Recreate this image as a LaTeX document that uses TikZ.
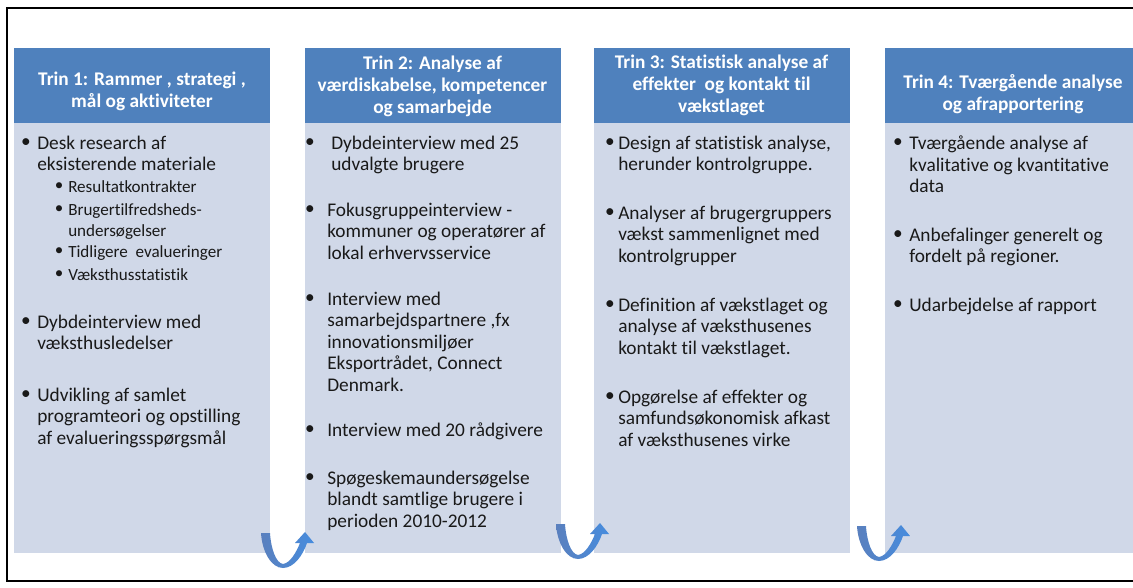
\documentclass[tikz,border=0pt]{standalone}
\usepackage{fontspec}
\setmainfont{Carlito}[Ligatures=NoCommon]
\definecolor{hdblue}{RGB}{79,129,189}
\definecolor{bdgrey}{RGB}{208,216,232}
\definecolor{uleft}{RGB}{90,128,190}
\definecolor{uright}{RGB}{70,140,222}
\newcommand{\bodyfont}{\fontsize{14.5}{16.1}\selectfont}
\newcommand{\subfont}{\fontsize{12.8}{15.3}\selectfont}
% bullet item: name, bullet x, text x, first line y, text
\newcommand{\bitem}[5]{%
  \node[dot] (#1b) at (#2,#4) {\textbullet};
  \node[item] (#1) at (#3,{#4-7.3}) {#5};}
\newcommand{\sitem}[5]{%
  \node[dot,font=\subfont] (#1b) at (#2,#4) {\textbullet};
  \node[item,font=\subfont] (#1) at (#3,{#4-6.5}) {#5};}

\begin{document}
\begin{tikzpicture}[x=0.75pt,y=-0.75pt,
  hdtext/.style={text=white,font=\bfseries\fontsize{14.5}{16.5}\selectfont,align=center,inner sep=0pt},
  item/.style={anchor=north west,inner sep=0pt,align=left,font=\bodyfont,text=black!90},
  dot/.style={inner sep=0pt,font=\bodyfont,text=black!90},
  uarrow/.style={left color=uleft,right color=uright}]
\useasboundingbox (0,0) rectangle (1133,588);
\clip (0,0) rectangle (1133,588);
% frame
\draw[line width=1.5pt] (1140,8) -- (7,8) -- (7,581) -- (1140,581);
% columns
\foreach \cx in {14,305,594,885}{
  \fill[hdblue] (\cx,48) rectangle ++(256,75);
  \fill[bdgrey] (\cx,123) rectangle ++(256,430);
}
% headers
\node[hdtext] (hd1) at (142,91) {Trin 1: Rammer , strategi ,\\mål og aktiviteter};
\node[hdtext] (hd2) at (432.5,86) {Trin 2: Analyse af\\værdiskabelse, kompetencer\\og samarbejde};
\node[hdtext] (hd3) at (721.5,85) {Trin 3: Statistisk analyse af\\effekter\ \ og kontakt til\\vækstlaget};
\node[hdtext] (hd4) at (1013,94) {Trin 4: Tværgående analyse\\og afrapportering};
% trin 1
\bitem{a1}{26}{37}{143}{Desk research af\\eksisterende materiale}
\sitem{a1s1}{59}{68}{187}{Resultatkontrakter}
\sitem{a1s2}{59}{68}{210}{Brugertilfredsheds-\\undersøgelser}
\sitem{a1s3}{59}{68}{252}{Tidligere\ \ evalueringer}
\sitem{a1s4}{59}{68}{275}{Væksthusstatistik}
\bitem{a2}{26}{37}{322}{Dybdeinterview med\\væksthusledelser}
\bitem{a3}{26}{37}{395}{Udvikling af samlet\\programteori og opstilling\\af evalueringsspørgsmål}
% trin 2
\bitem{b1}{310}{331}{143}{Dybdeinterview med 25\\udvalgte brugere}
\bitem{b2}{310}{327}{210}{Fokusgruppeinterview -\\kommuner og operatører af\\lokal erhvervsservice}
\bitem{b3}{310}{327}{299}{Interview med\\samarbejdspartnere ,fx\\innovationsmiljøer\\Eksportrådet, Connect\\Denmark.}
\bitem{b4}{310}{327}{430}{Interview med 20 rådgivere}
\bitem{b5}{310}{327}{478}{Spøgeskemaundersøgelse\\blandt samtlige brugere i\\perioden 2010-2012}
% trin 3
\bitem{c1}{610}{618}{143}{Design af statistisk analyse,\\herunder kontrolgruppe.}
\bitem{c2}{610}{618}{213}{Analyser af brugergruppers\\vækst sammenlignet med\\kontrolgrupper}
\bitem{c3}{610}{618}{305}{Definition af vækstlaget og\\analyse af væksthusenes\\kontakt til vækstlaget.}
\bitem{c4}{610}{618}{397}{Opgørelse af effekter og\\samfundsøkonomisk afkast\\af væksthusenes virke}
% trin 4
\bitem{d1}{898}{909}{143}{Tværgående analyse af\\kvalitative og kvantitative\\data}
\bitem{d2}{898}{909}{235}{Anbefalinger generelt og\\fordelt på regioner.}
\bitem{d3}{898}{909}{305}{Udarbejdelse af rapport}
% u-turn arrows
\foreach \ax/\ay in {261/533,556/524,857/526}{
  \shade[uarrow,shift={(\ax,\ay)}] (0,0) .. controls (1,18) and (10,35) .. (22,35)
    .. controls (33,35) and (42,22) .. (46,10) -- (53,10) -- (44,-1) -- (34,10) -- (39,10)
    .. controls (35,20) and (29,30) .. (22,31)
    .. controls (15,30) and (10,16) .. (9,0) -- cycle;
}
\end{tikzpicture}
\end{document}
